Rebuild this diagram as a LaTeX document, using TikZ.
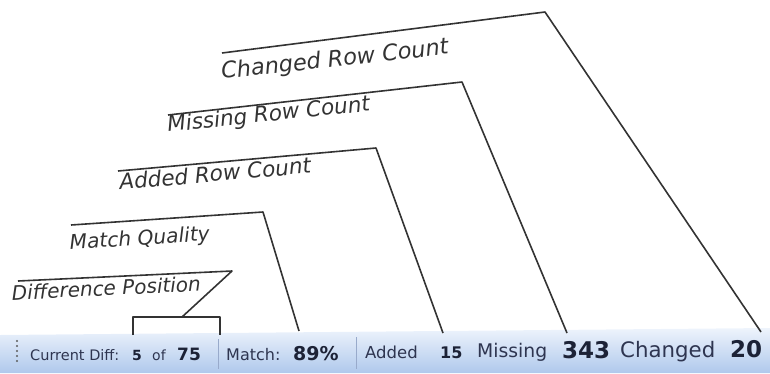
\documentclass[tikz,border=0pt]{standalone}
\usepackage{fontspec}
\setmainfont{DejaVu Sans}[ItalicFont={DejaVu Sans Oblique},BoldFont={DejaVu Sans Bold}]
\usetikzlibrary{positioning}

\definecolor{inkgrey}{HTML}{333333}
\definecolor{barTop}{HTML}{EEF4FC}
\definecolor{barBottom}{HTML}{AFC8EC}
\definecolor{barInk}{HTML}{2E3550}
\definecolor{barNum}{HTML}{1C2236}
\definecolor{sepGrey}{HTML}{98AACB}

\newcommand{\fsz}[1]{\fontsize{#1}{#1}\selectfont}

\tikzset{
  callout/.style={draw=inkgrey, line width=1.6pt, line join=round},
  tag/.style={inner sep=0pt, anchor=base west, text=inkgrey},
  bartext/.style={inner sep=0pt, anchor=base west, text=barInk},
  barnum/.style={inner sep=0pt, anchor=base west, text=barNum},
  sepline/.style={draw=sepGrey, line width=0.9pt},
}

\begin{document}
\begin{tikzpicture}[x=1pt, y=-1pt]
    \useasboundingbox (0,0) rectangle (770,373);

    % status bar
    \shade[top color=barTop, bottom color=barBottom] (0,335) -- (770,328) -- (770,373) -- (0,373) -- cycle;
    \foreach \yy in {341,346,351,356,361}
        \fill[inkgrey!80] (17,\yy) circle (1.1);
    \draw[sepline] (218,339) -- (218,369);
    \draw[sepline] (356,337) -- (356,369);

    \node[bartext, font=\fsz{14.5}] (curLbl) at (30,360) {Current Diff:};
    \node[barnum, font=\bfseries\fsz{14}] (curNum) at (132,360) {5};
    \node[bartext, font=\fsz{14}] (ofLbl) at (152,360) {of};
    \node[barnum, font=\bfseries\fsz{17}] (totNum) at (177,360) {75};
    \node[bartext, font=\fsz{16}] (matLbl) at (226,360) {Match:};
    \node[barnum, font=\bfseries\fsz{19}] (matNum) at (293,360) {89\%};
    \node[bartext, font=\fsz{16.5}] (addLbl) at (365,358) {Added};
    \node[barnum, font=\bfseries\fsz{16}] (addNum) at (440,358) {15};
    \node[bartext, font=\fsz{18.8}] (misLbl) at (477,357) {Missing};
    \node[barnum, font=\bfseries\fsz{23}] (misNum) at (562,358) {343};
    \node[bartext, font=\fsz{21.3}] (chgLbl) at (620,357) {Changed};
    \node[barnum, font=\bfseries\fsz{23}] (chgNum) at (730,357) {20};

    % callouts
    \node[tag, rotate=6.3, font=\itshape\fsz{22.4}] (chgTag) at (222,79) {Changed Row Count};
    \coordinate (chgA) at (222,53);
    \coordinate (chgB) at (545,12);
    \coordinate (chgC) at (761,332);
    \draw[callout] (chgA) -- (chgB) -- (chgC);

    \node[tag, rotate=6, font=\itshape\fsz{21.5}] (misTag) at (168,132) {Missing Row Count};
    \coordinate (misA) at (168,115);
    \coordinate (misB) at (462,82);
    \coordinate (misC) at (567,333);
    \draw[callout] (misA) -- (misB) -- (misC);

    \node[tag, rotate=5.1, font=\itshape\fsz{21.5}] (addTag) at (120,190) {Added Row Count};
    \coordinate (addA) at (118,171);
    \coordinate (addB) at (376,148);
    \coordinate (addC) at (443,333);
    \draw[callout] (addA) -- (addB) -- (addC);

    \node[tag, rotate=3.9, font=\itshape\fsz{20.2}] (matTag) at (70,250) {Match Quality};
    \coordinate (matA) at (71,225);
    \coordinate (matB) at (263,212);
    \coordinate (matC) at (299,331);
    \draw[callout] (matA) -- (matB) -- (matC);

    \node[tag, rotate=2.7, font=\itshape\fsz{20}] (difTag) at (12,300) {Difference Position};
    \coordinate (difA) at (18,281);
    \coordinate (difB) at (232,271);
    \coordinate (difC) at (182,317);
    \draw[callout] (difA) -- (difB) -- (difC);
    \draw[callout] (133,335) -- (133,317) -- (220,317) -- (220,335);
\end{tikzpicture}
\end{document}
